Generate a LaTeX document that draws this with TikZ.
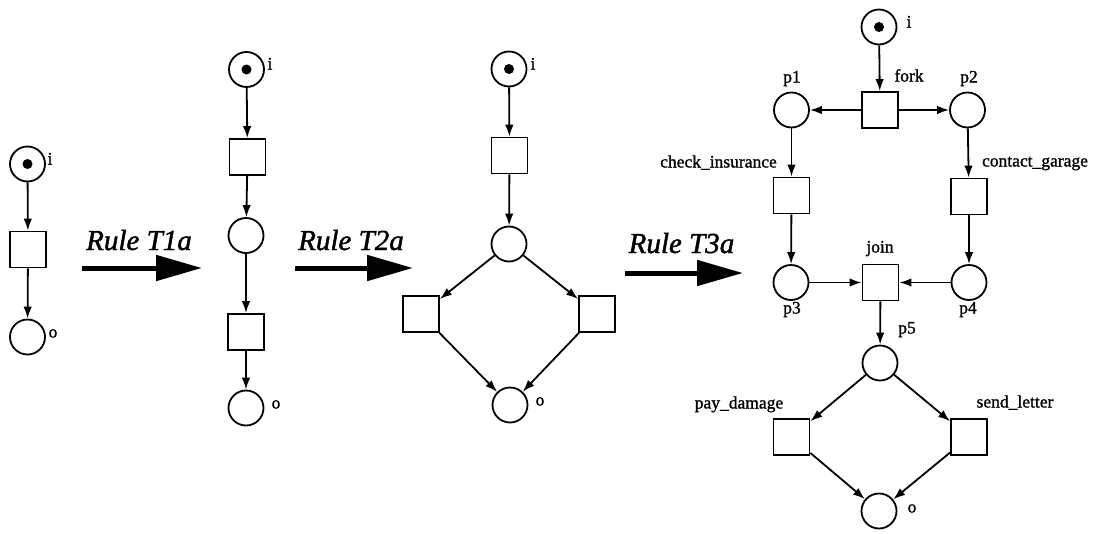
\documentclass[tikz,border=0pt]{standalone}
\usepackage{fontspec}
\setmainfont{Liberation Serif}
\newfontfamily\lblfont{Liberation Serif}[FakeBold=1.2]
\newfontfamily\rulefont{Liberation Serif}[FakeBold=1.5]
\usetikzlibrary{arrows.meta}
\tikzset{
  place/.style={draw, circle, line width=1.8pt, minimum size=35pt, inner sep=0pt},
  trans/.style={draw, rectangle, line width=1.8pt, minimum size=36pt, inner sep=0pt},
  lbl/.style={font=\lblfont\fontsize{17.5}{20}\selectfont, inner sep=0pt, text height=0.7em, text depth=0.2em},
  arc/.style={line width=1.8pt, -{Latex[length=12pt,width=8.5pt]}},
  ruletext/.style={font=\rulefont\fontsize{29}{32}\selectfont\itshape, inner sep=0pt, anchor=base},
  rulearrow/.style={line width=5pt, -{Triangle[length=46pt,width=25pt]}},
  tok/.style={fill=black}
}
\begin{document}
\begin{tikzpicture}[x=1pt,y=-1pt]
\useasboundingbox (0,0) rectangle (1099,533);

% ---------- net 1 ----------
\node[place] (i1) at (27.5,164) {};
\node[trans] (t1) at (28,249.5) {};
\node[place] (o1) at (27.5,337) {};
\fill[tok] (i1) circle (5pt);
\node[lbl] (li1) at (50,162) {i};
\node[lbl] (lo1) at (53,335) {o};
\draw[arc] (i1) -- (t1);
\draw[arc] (t1) -- (o1);

% ---------- rule T1a ----------
\node[ruletext] (r1) at (139,250) {Rule T1a};
\coordinate (r1a) at (82,268);
\coordinate (r1b) at (202,268);
\draw[rulearrow] (r1a) -- (r1b);

% ---------- net 2 ----------
\node[place] (i2) at (246.5,69.5) {};
\node[trans] (t21) at (247.5,157) {};
\node[place] (p21) at (246,235.5) {};
\node[trans] (t22) at (246,332) {};
\node[place] (o2) at (246,408) {};
\fill[tok] (i2) circle (5pt);
\node[lbl] (li2) at (270,67) {i};
\node[lbl] (lo2) at (276,406) {o};
\draw[arc] (i2) -- (t21);
\draw[arc] (t21) -- (p21);
\draw[arc] (p21) -- (t22);
\draw[arc] (t22) -- (o2);

% ---------- rule T2a ----------
\node[ruletext] (r2) at (351,250) {Rule T2a};
\coordinate (r2a) at (295,268);
\coordinate (r2b) at (413,268);
\draw[rulearrow] (r2a) -- (r2b);

% ---------- net 3 ----------
\node[place] (i3) at (509,69) {};
\node[trans] (t31) at (509.5,155.5) {};
\node[place] (p31) at (509,244) {};
\node[trans] (t32) at (421,314) {};
\node[trans] (t33) at (597,314) {};
\node[place] (o3) at (510,405) {};
\fill[tok] (i3) circle (5pt);
\node[lbl] (li3) at (533,67) {i};
\node[lbl] (lo3) at (540,403) {o};
\draw[arc] (i3) -- (t31);
\draw[arc] (t31) -- (p31);
\draw[arc] (p31) -- (t32);
\draw[arc] (p31) -- (t33);
\draw[arc] (t32) -- (o3);
\draw[arc] (t33) -- (o3);

% ---------- rule T3a ----------
\node[ruletext] (r3) at (681.5,253) {Rule T3a};
\coordinate (r3a) at (625,273);
\coordinate (r3b) at (743,273);
\draw[rulearrow] (r3a) -- (r3b);

% ---------- net 4 ----------
\node[place] (i4) at (879,27) {};
\node[trans] (fork) at (880,110) {};
\node[place] (p1) at (791.5,110) {};
\node[place] (p2) at (967.5,110) {};
\node[trans] (ci) at (791.5,195.5) {};
\node[trans] (cg) at (969,196.5) {};
\node[place] (p3) at (791,282.5) {};
\node[trans] (join) at (880.5,282.5) {};
\node[place] (p4) at (969,282.5) {};
\node[place] (p5) at (880,363) {};
\node[trans] (pd) at (791.5,437) {};
\node[trans] (sl) at (969,437) {};
\node[place] (o4) at (879,511) {};
\fill[tok] (i4) circle (5pt);

\node[lbl] (li4) at (909,25) {i};
\node[lbl] (lfork) at (909,79) {fork};
\node[lbl] (lp1) at (792,80) {p1};
\node[lbl] (lp2) at (969,80) {p2};
\node[lbl] (lci) at (718.5,165) {check\_insurance};
\node[lbl] (lcg) at (1035,164) {contact\_garage};
\node[lbl] (ljoin) at (880,250) {join};
\node[lbl] (lp3) at (792,311) {p3};
\node[lbl] (lp4) at (968,311) {p4};
\node[lbl] (lp5) at (907,331) {p5};
\node[lbl] (lpd) at (739,406) {pay\_damage};
\node[lbl] (lsl) at (1015,405) {send\_letter};
\node[lbl] (lo4) at (912,510) {o};

\draw[arc] (i4) -- (fork);
\draw[arc] (fork) -- (p1);
\draw[arc] (fork) -- (p2);
\draw[arc] (p1) -- (ci);
\draw[arc] (p2) -- (cg);
\draw[arc] (ci) -- (p3);
\draw[arc] (cg) -- (p4);
\draw[arc] (p3) -- (join);
\draw[arc] (p4) -- (join);
\draw[arc] (join) -- (p5);
\draw[arc] (p5) -- (pd);
\draw[arc] (p5) -- (sl);
\draw[arc] (pd) -- (o4);
\draw[arc] (sl) -- (o4);
\end{tikzpicture}
\end{document}
